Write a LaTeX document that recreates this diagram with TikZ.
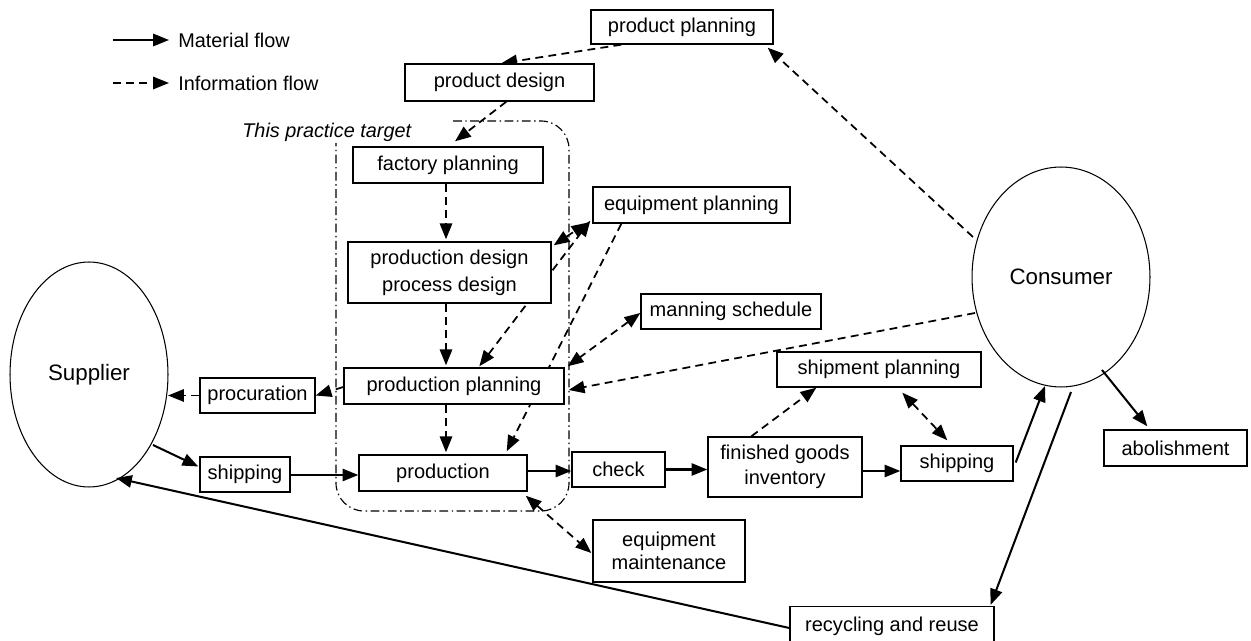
\documentclass[tikz,border=0pt]{standalone}
\usepackage{fontspec}
\setmainfont{Liberation Sans}
\usetikzlibrary{shapes.geometric,arrows.meta,calc,backgrounds}
\begin{document}
\begin{tikzpicture}[x=0.02cm,y=-0.02cm,
  >={Triangle[length=9pt,width=7pt]},
  box/.style={draw, line width=0.8pt, fill=white, inner sep=0pt, align=center,
    font=\fontsize{11.4}{14}\selectfont},
  ell/.style={draw, ellipse, line width=0.6pt, inner sep=0pt,
    font=\fontsize{12.7}{15}\selectfont},
  txt/.style={inner sep=0pt, anchor=west, font=\fontsize{11.3}{14}\selectfont},
  mat/.style={line width=1.15pt},
  inf/.style={line width=1pt, dash pattern=on 4.5pt off 3pt},
  target/.style={line width=0.65pt, dash pattern=on 5pt off 2pt on 0.8pt off 2pt, rounded corners=0.56cm}]
\useasboundingbox (0,0) rectangle (1251,641);

% legend
\node[txt] (lm) at (178,40) {Material flow};
\node[txt] (li) at (178,83) {Information flow};
\coordinate (ma) at (113,40);
\coordinate (ia) at (113,83);

% boxes
\node[box, minimum width=3.64cm, minimum height=0.68cm] (pplan) at (682,27) {product planning};
\node[box, minimum width=3.78cm, minimum height=0.74cm] (pdes) at (499.5,82.5) {product design};
\node[box, minimum width=3.80cm, minimum height=0.72cm] (fplan) at (448,165) {factory planning};
\node[box, minimum width=4.06cm, minimum height=1.22cm, font=\fontsize{11.4}{15.5}\selectfont] (pdesign) at (449.5,272.5) {production design\\process design};
\node[box, minimum width=3.94cm, minimum height=0.72cm] (eplan) at (691.5,205) {equipment planning};
\node[box, minimum width=3.60cm, minimum height=0.70cm] (manning) at (731,311.5) {manning schedule};
\node[box, minimum width=4.40cm, minimum height=0.72cm] (prodplan) at (454,386) {production planning};
\node[box, minimum width=2.30cm, minimum height=0.70cm] (procur) at (257.5,395.5) {procuration};
\node[box, minimum width=1.80cm, minimum height=0.70cm] (shipL) at (245,474.5) {shipping};
\node[box, minimum width=3.36cm, minimum height=0.72cm] (production) at (443,473) {production};
\node[box, minimum width=1.86cm, minimum height=0.70cm] (check) at (618.5,469.5) {check};
\node[box, minimum width=3.08cm, minimum height=1.20cm] (fgi) at (785,467) {finished goods\\inventory};
\node[box, minimum width=4.08cm, minimum height=0.70cm] (shipplan) at (879,369.5) {shipment planning};
\node[box, minimum width=2.24cm, minimum height=0.70cm] (shipR) at (957,463.5) {shipping};
\node[box, minimum width=2.86cm, minimum height=0.72cm] (abol) at (1175.5,448) {abolishment};
\node[box, minimum width=3.04cm, minimum height=1.24cm, font=\fontsize{11.4}{13}\selectfont] (eqmaint) at (669,551) {equipment\\maintenance};
\node[box, minimum width=4.08cm, minimum height=0.78cm] (recyc) at (892,626) {recycling and reuse};

\node[ell, minimum width=3.16cm, minimum height=4.5cm] (supp) at (89,374.5) {Supplier};
\node[ell, minimum width=3.56cm, minimum height=4.4cm] (cons) at (1061,277) {Consumer};

\node[txt, font=\fontsize{11.3}{14}\selectfont\itshape] (lbl) at (242,132) {This practice target};

\begin{scope}[on background layer]
% practice target frame
\draw[target] (453,121) -- (569,121) -- (569,511) -- (336,511) -- (336,143);

% legend arrows
\draw[mat,->] (ma) -- ($(lm.west)+(-9,0)$);
\draw[inf,->] (ia) -- ($(li.west)+(-9,0)$);

% information flow
\draw[inf,->] ($(pplan.south west)+(31,0)$) -- ($(pdes.north west)+(97,0)$);
\draw[inf,->] ($(pdes.south west)+(102,0)$) -- ($(fplan.north)+(7,-5)$);
\draw[inf,->] ($(fplan.south)+(-2,0)$) -- ($(pdesign.north)+(-3.5,-2)$);
\draw[inf,->] ($(pdesign.south)+(-3.5,0)$) -- ($(prodplan.north)+(-8,-2)$);
\draw[inf,->] ($(prodplan.south)+(-8,0)$) -- ($(production.north)+(3,-2)$);
\draw[inf,<->] ($(pdesign.north east)+(2,4)$) -- ($(eplan.south west)+(-5,-1)$);
\draw[inf,<->] ($(prodplan.north west)+(136,-1)$) -- ($(eplan.south west)+(-2,-3)$);
\draw[inf,->] ($(eplan.south west)+(29,0)$) -- ($(production.north east)+(-21,-3)$);
\draw[inf,<->] ($(manning.west)+(0,1.5)$) -- ($(prodplan.north east)+(3,-1)$);
\draw[inf,->] ($(cons.center)+(-86,36)$) -- ($(prodplan.east)+(4,4)$);
\draw[inf,->] ($(cons.center)+(-88,-40)$) -- ($(pplan.south east)+(-6,3)$);
\draw[inf,->] ($(prodplan.west)+(0,1)$) -- (procur.east);
\draw[inf,->] (procur.west) -- ($(supp.center)+(79,21)$);
\draw[inf,->] ($(fgi.north west)+(44,0)$) -- ($(shipplan.south west)+(40,0)$);
\draw[inf,<->] ($(shipplan.south west)+(126,5)$) -- ($(shipR.north west)+(47,-5)$);
\draw[inf,<->] ($(production.south east)+(-2,4)$) -- ($(eqmaint.west)+(-1,2)$);

% material flow
\draw[mat,->] ($(supp.center)+(64,70.5)$) -- ($(shipL.west)+(-1,-8)$);
\draw[mat,->] ($(shipL.east)+(0,0.5)$) -- ($(shipL.east -| production.west)+(0,0.5)$);
\draw[mat,->] ($(production.east)+(0,-2)$) -- ($(production.east -| check.west)+(0,-2)$);
\draw[mat,->] (check.east) -- (check.east -| fgi.west);
\draw[mat,->] ($(fgi.east)+(0,4)$) -- ($(fgi.east -| shipR.west)+(0,4)$);
\draw[mat,->] ($(shipR.east)+(2,-1)$) -- ($(cons.center)+(-16,109)$);
\draw[mat,->] ($(cons.center)+(10,115)$) -- ($(recyc.north east)+(-4,-1)$);
\draw[mat,->] ($(cons.center)+(41,93)$) -- ($(abol.north west)+(44,-3)$);
\draw[mat,->] ($(recyc.west)+(0,2)$) -- ($(supp.center)+(27,103.5)$);
\end{scope}
\end{tikzpicture}
\end{document}
